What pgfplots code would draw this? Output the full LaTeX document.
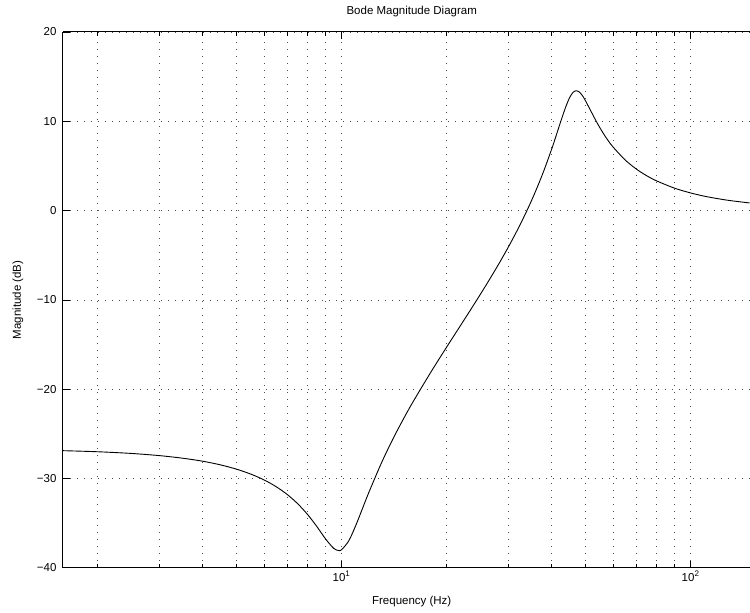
\documentclass[border=0pt]{standalone}
\usepackage{fontspec}
\setmainfont{Liberation Sans}
\usepackage{pgfplots}
\pgfplotsset{compat=1.18}
\begin{document}
\begin{tikzpicture}
\begin{axis}[
  name=ax,
  scale only axis, width=687pt, height=536pt,
  xmode=log, xmin=1.5915, xmax=147.5, ymin=-40, ymax=20,
  axis x line=box, axis y line=left,
  axis line style={-, line width=1pt},
  xtick={10,100}, xticklabels={10\textsuperscript{1},10\textsuperscript{2}},
  minor xtick={2,3,4,5,6,7,8,9,20,30,40,50,60,70,80,90},
  ytick={-40,-30,-20,-10,0,10,20},
  yticklabels={−40,−30,−20,−10,0,10,20},
  tick align=inside, major tick length=7pt, minor tick length=4pt,
  tick style={black, line width=0.6pt},
  grid=both,
  major grid style={black!70, line width=0.6pt, dash pattern=on 0.6pt off 6.4pt},
  minor grid style={black!70, line width=0.6pt, dash pattern=on 0.6pt off 6.4pt},
  every tick label/.append style={font=\fontsize{11.5}{13}\selectfont},
  yticklabel style={xshift=-3pt},
  every axis title shift=0pt,
  title={Bode Magnitude Diagram},
  title style={at={(0.508,1.0373)}, anchor=center, yshift=0pt, font=\fontsize{11.5}{13}\selectfont},
  xlabel={Frequency (Hz)},
  xlabel style={at={(0.508,-0.0634)}, anchor=center, font=\fontsize{11.5}{13}\selectfont},
  ylabel={Magnitude (dB)},
  ylabel style={at={(-0.0655,0.5)}, anchor=center, font=\fontsize{11.5}{13}\selectfont},
]
\addplot[black, line width=0.9pt, smooth] table {
f dB
1.5915 -26.90
2 -27.02
2.5 -27.21
3 -27.45
3.5 -27.74
4 -28.08
4.5 -28.49
5 -28.97
5.5 -29.53
6 -30.18
6.5 -30.94
7 -31.83
7.5 -32.87
8 -34.07
8.5 -35.41
9 -36.79
9.5 -37.85
9.8 -38.08
10 -38.00
10.5 -36.96
11 -35.21
11.5 -33.30
12 -31.48
13 -28.30
14 -25.66
15 -23.43
16 -21.47
18 -18.14
20 -15.30
22 -12.78
24 -10.47
26 -8.29
28 -6.20
30 -4.14
32 -2.08
34 0.02
36 2.20
38 4.48
40 6.90
41 8.15
42 9.41
43 10.62
44 11.73
45 12.63
46 13.22
47 13.42
48 13.27
49 12.86
50 12.29
52 11.01
54 9.80
56 8.75
58 7.85
60 7.10
65 5.65
70 4.63
75 3.88
80 3.31
90 2.50
100 1.97
110 1.59
120 1.32
130 1.11
147.5 0.85
};
\end{axis}
\path ([shift={(-63pt,-45pt)}]ax.south west) rectangle ([shift={(0pt,32pt)}]ax.north east);
\end{tikzpicture}
\end{document}
